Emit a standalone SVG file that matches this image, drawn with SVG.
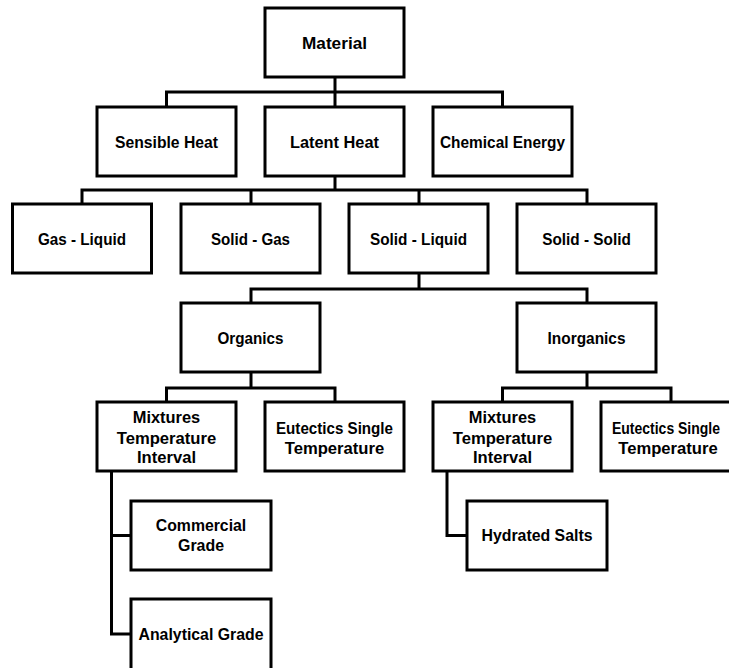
<svg xmlns="http://www.w3.org/2000/svg" width="729" height="668" viewBox="0 0 729 668">
<style>
.box{fill:#fff;stroke:#000;stroke-width:3}
.t{font-family:"Liberation Sans",Arial,sans-serif;font-weight:bold;font-size:16.5px;fill:#000;text-anchor:middle}
.c{fill:none;stroke:#000;stroke-width:3;stroke-linecap:square;stroke-linejoin:miter}
</style>
<rect width="729" height="668" fill="#fff"/>
<g id="connectors">
<path class="c" d="M335 77V92M166.5 107V92H502.5V107M335 92V107"/>
<path class="c" d="M335 176V190M82 204V190H587V204M251 190V204M419 190V204"/>
<path class="c" d="M419 273V289M251 303V289H587V303"/>
<path class="c" d="M251 372V388M166.5 402V388H335V402"/>
<path class="c" d="M587 372V388M502.5 402V388H671V402"/>
<path class="c" d="M111.5 471V634H131M111.5 535.5H131"/>
<path class="c" d="M447 471V535.5H467"/>
</g>
<g id="material"><rect class="box" x="265" y="8" width="139" height="69"/><text class="t" x="334.5" y="48.5" textLength="65" lengthAdjust="spacingAndGlyphs">Material</text></g>
<g id="sensible-heat"><rect class="box" x="97" y="107" width="139" height="69"/><text class="t" x="166.5" y="147.5" textLength="103" lengthAdjust="spacingAndGlyphs">Sensible Heat</text></g>
<g id="latent-heat"><rect class="box" x="265" y="107" width="139" height="69"/><text class="t" x="334.5" y="147.5" textLength="89" lengthAdjust="spacingAndGlyphs">Latent Heat</text></g>
<g id="chemical-energy"><rect class="box" x="433" y="107" width="139" height="69"/><text class="t" x="502.5" y="147.5" textLength="125" lengthAdjust="spacingAndGlyphs">Chemical Energy</text></g>
<g id="gas-liquid"><rect class="box" x="12.5" y="204" width="139" height="69"/><text class="t" x="82" y="244.5" textLength="88" lengthAdjust="spacingAndGlyphs">Gas - Liquid</text></g>
<g id="solid-gas"><rect class="box" x="181" y="204" width="139" height="69"/><text class="t" x="250.5" y="244.5" textLength="79" lengthAdjust="spacingAndGlyphs">Solid - Gas</text></g>
<g id="solid-liquid"><rect class="box" x="349" y="204" width="139" height="69"/><text class="t" x="418.5" y="244.5" textLength="97" lengthAdjust="spacingAndGlyphs">Solid - Liquid</text></g>
<g id="solid-solid"><rect class="box" x="517" y="204" width="139" height="69"/><text class="t" x="586.5" y="244.5" textLength="88.5" lengthAdjust="spacingAndGlyphs">Solid - Solid</text></g>
<g id="organics"><rect class="box" x="181" y="303" width="139" height="69"/><text class="t" x="250.5" y="343.5" textLength="66" lengthAdjust="spacingAndGlyphs">Organics</text></g>
<g id="inorganics"><rect class="box" x="517" y="303" width="139" height="69"/><text class="t" x="586.5" y="343.5" textLength="78" lengthAdjust="spacingAndGlyphs">Inorganics</text></g>
<g id="org-mixtures"><rect class="box" x="97" y="402" width="139" height="69"/><text class="t" x="166.5" y="423" textLength="67.5" lengthAdjust="spacingAndGlyphs">Mixtures</text><text class="t" x="166.5" y="443.5" textLength="99.5" lengthAdjust="spacingAndGlyphs">Temperature</text><text class="t" x="166.5" y="463" textLength="59" lengthAdjust="spacingAndGlyphs">Interval</text></g>
<g id="org-eutectics"><rect class="box" x="265" y="402" width="139" height="69"/><text class="t" x="334.5" y="434" textLength="117" lengthAdjust="spacingAndGlyphs">Eutectics Single</text><text class="t" x="334.5" y="453.5" textLength="99.5" lengthAdjust="spacingAndGlyphs">Temperature</text></g>
<g id="inorg-mixtures"><rect class="box" x="433" y="402" width="139" height="69"/><text class="t" x="502.5" y="423" textLength="67.5" lengthAdjust="spacingAndGlyphs">Mixtures</text><text class="t" x="502.5" y="443.5" textLength="99.5" lengthAdjust="spacingAndGlyphs">Temperature</text><text class="t" x="502.5" y="463" textLength="59" lengthAdjust="spacingAndGlyphs">Interval</text></g>
<g id="inorg-eutectics"><rect class="box" x="601" y="402" width="139" height="69"/><text class="t" x="666" y="434" textLength="108" lengthAdjust="spacingAndGlyphs">Eutectics Single</text><text class="t" x="668" y="453.5" textLength="99.5" lengthAdjust="spacingAndGlyphs">Temperature</text></g>
<g id="commercial-grade"><rect class="box" x="131" y="501" width="140" height="69"/><text class="t" x="201" y="530.5" textLength="90.5" lengthAdjust="spacingAndGlyphs">Commercial</text><text class="t" x="201" y="551" textLength="46" lengthAdjust="spacingAndGlyphs">Grade</text></g>
<g id="analytical-grade"><rect class="box" x="131" y="599" width="140" height="72"/><text class="t" x="201" y="640" textLength="125" lengthAdjust="spacingAndGlyphs">Analytical Grade</text></g>
<g id="hydrated-salts"><rect class="box" x="467" y="501" width="140" height="69"/><text class="t" x="537" y="541" textLength="111" lengthAdjust="spacingAndGlyphs">Hydrated Salts</text></g>
</svg>
